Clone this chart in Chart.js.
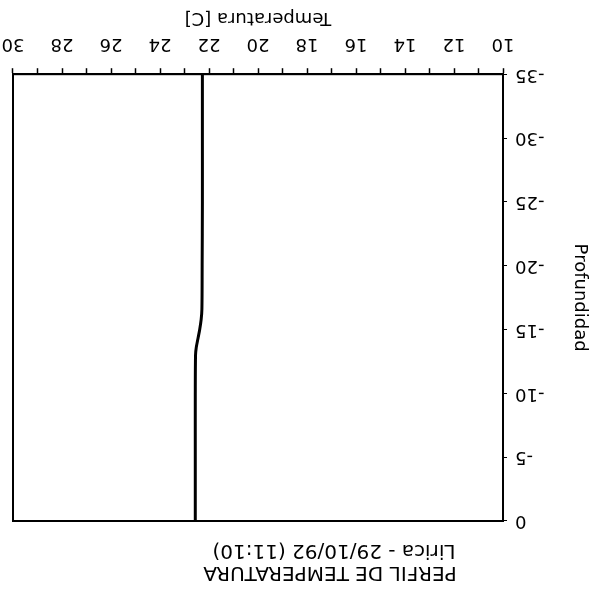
<!DOCTYPE html>
<html>
<head>
<meta charset="utf-8">
<script src="https://cdn.jsdelivr.net/npm/chart.js@4"></script>
<style>
  html, body { margin: 0; padding: 0; background: #fff; }
  /* the scanned sheet is upside down, so the whole chart is turned over */
  #wrap { width: 602px; height: 594px; transform: rotate(180deg); }
</style>
</head>
<body>
<div id="wrap"><canvas id="perfil" width="602" height="594"></canvas></div>
<script>
// Temperature profile
const depth = [0, -5, -10, -13, -13.6, -14.3, -15, -15.8, -16.6, -20, -25, -30, -35];
const temperature = [22.56, 22.56, 22.56, 22.55, 22.52, 22.45, 22.38, 22.32, 22.29, 22.28, 22.27, 22.27, 22.27];

const titleLines = ['PERFIL DE TEMPERATURA', 'Lirica - 29/10/92 (11:10)'];
const xTitle = 'Temperatura [C]';
const yTitle = 'Profundidad';

// Closes the frame on top and right
const frameBox = {
  id: 'frameBox',
  afterDraw(chart) {
    const a = chart.chartArea;
    const ctx = chart.ctx;
    ctx.save();
    ctx.strokeStyle = '#000';
    ctx.lineWidth = 2;
    ctx.strokeRect(a.left, a.top, a.right - a.left, a.bottom - a.top);
    ctx.restore();
  }
};

// Heading of the sheet, sits a bit left of the plot centre like the plotter put it
const sheetTitle = {
  id: 'sheetTitle',
  afterDraw(chart) {
    const ctx = chart.ctx;
    ctx.save();
    ctx.fillStyle = '#000';
    ctx.font = '20px "DejaVu Sans"';
    ctx.textAlign = 'center';
    ctx.textBaseline = 'middle';
    ctx.fillText(titleLines[0], 272, 22);
    ctx.fillText(titleLines[1], 268, 44);
    ctx.restore();
  }
};

const font = { family: 'DejaVu Sans', size: 18 };

new Chart(document.getElementById('perfil'), {
  type: 'line',
  data: {
    datasets: [{
      data: depth.map((d, i) => ({ x: temperature[i], y: d })),
      borderColor: '#000',
      borderWidth: 3,
      pointRadius: 0,
      tension: 0.3,
      fill: false
    }]
  },
  options: {
    responsive: false,
    animation: false,
    layout: { padding: { left: 12, right: 13, top: 73, bottom: 7 } },
    plugins: {
      legend: { display: false },
      tooltip: { enabled: false },
      title: { display: false }
    },
    scales: {
      x: {
        type: 'linear',
        min: 10,
        max: 30,
        // let the last label hang over the edge, the frame runs close to the sheet border
        afterFit: scale => { scale.paddingRight = 0; },
        grid: { drawOnChartArea: false, tickLength: 6, color: '#000', tickWidth: 1.5 },
        border: { color: '#000', width: 2 },
        ticks: {
          stepSize: 1,
          color: '#000',
          font: font,
          maxRotation: 0,
          autoSkip: false,
          padding: 14,
          callback: v => (v % 2 === 0 ? String(v) : '')
        },
        title: { display: true, text: xTitle, color: '#000', font: font, padding: { top: -10, bottom: 0 } }
      },
      y: {
        type: 'linear',
        min: -35,
        max: 0,
        grid: { drawOnChartArea: false, tickLength: 4, color: '#000' },
        border: { color: '#000', width: 2 },
        ticks: { stepSize: 5, color: '#000', font: font, padding: 8 },
        title: { display: true, text: yTitle, color: '#000', font: font, padding: { top: 0, bottom: 16 } }
      }
    }
  },
  plugins: [frameBox, sheetTitle]
});
</script>
</body>
</html>
